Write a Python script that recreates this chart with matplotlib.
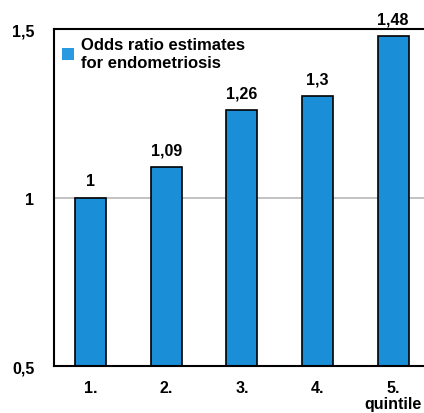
import numpy as np
import matplotlib.pyplot as plt
from matplotlib.patches import Patch

plt.rcParams['font.family'] = ['Liberation Sans', 'DejaVu Sans']

quintiles = ['1.', '2.', '3.', '4.', '5.\nquintile']
odds = [1.0, 1.09, 1.26, 1.3, 1.48]
odds_labels = ['1', '1,09', '1,26', '1,3', '1,48']
yticks = [0.5, 1, 1.5]
ytick_labels = ['0,5', '1', '1,5']

fig = plt.figure(figsize=(4.24, 4.14), dpi=100)
ax = fig.add_axes([0.127, 0.1135, 0.873, 0.814])

x = np.arange(len(odds))
ax.axhline(1, color='#b8b8b8', lw=1.2, zorder=0)
ax.bar(x, [v - 0.5 for v in odds], bottom=0.5, width=0.41,
       color='#1a8fd8', edgecolor='black', lw=1.2, zorder=2)
for xi, v, lab in zip(x, odds, odds_labels):
    ax.text(xi, v + 0.028, lab, ha='center', va='bottom',
            fontsize=11.5, fontweight='bold')

ax.set_xlim(-0.49, 4.41)
ax.set_ylim(0.5, 1.5)
ax.set_yticks(yticks)
ax.set_yticklabels(ytick_labels, fontsize=11.5, fontweight='bold')
ax.set_xticks(x)
ax.set_xticklabels(quintiles, fontsize=11.5, fontweight='bold', linespacing=1.1)
ax.tick_params(length=0, pad=10)
ax.tick_params(axis='y', pad=14)
ax.spines['right'].set_visible(False)
for s in ['left', 'bottom', 'top']:
    ax.spines[s].set_linewidth(1.5)

handle = Patch(facecolor='#2a9ae0', edgecolor='none',
               label='Odds ratio estimates\nfor endometriosis')
ax.legend(handles=[handle], loc='upper left', frameon=False,
          prop={'weight': 'bold', 'size': 12},
          handlelength=0.7, handleheight=0.7, handletextpad=0.4,
          borderaxespad=0.2, borderpad=0.3, labelspacing=0.2)

fig.savefig('out.png', dpi=100)
